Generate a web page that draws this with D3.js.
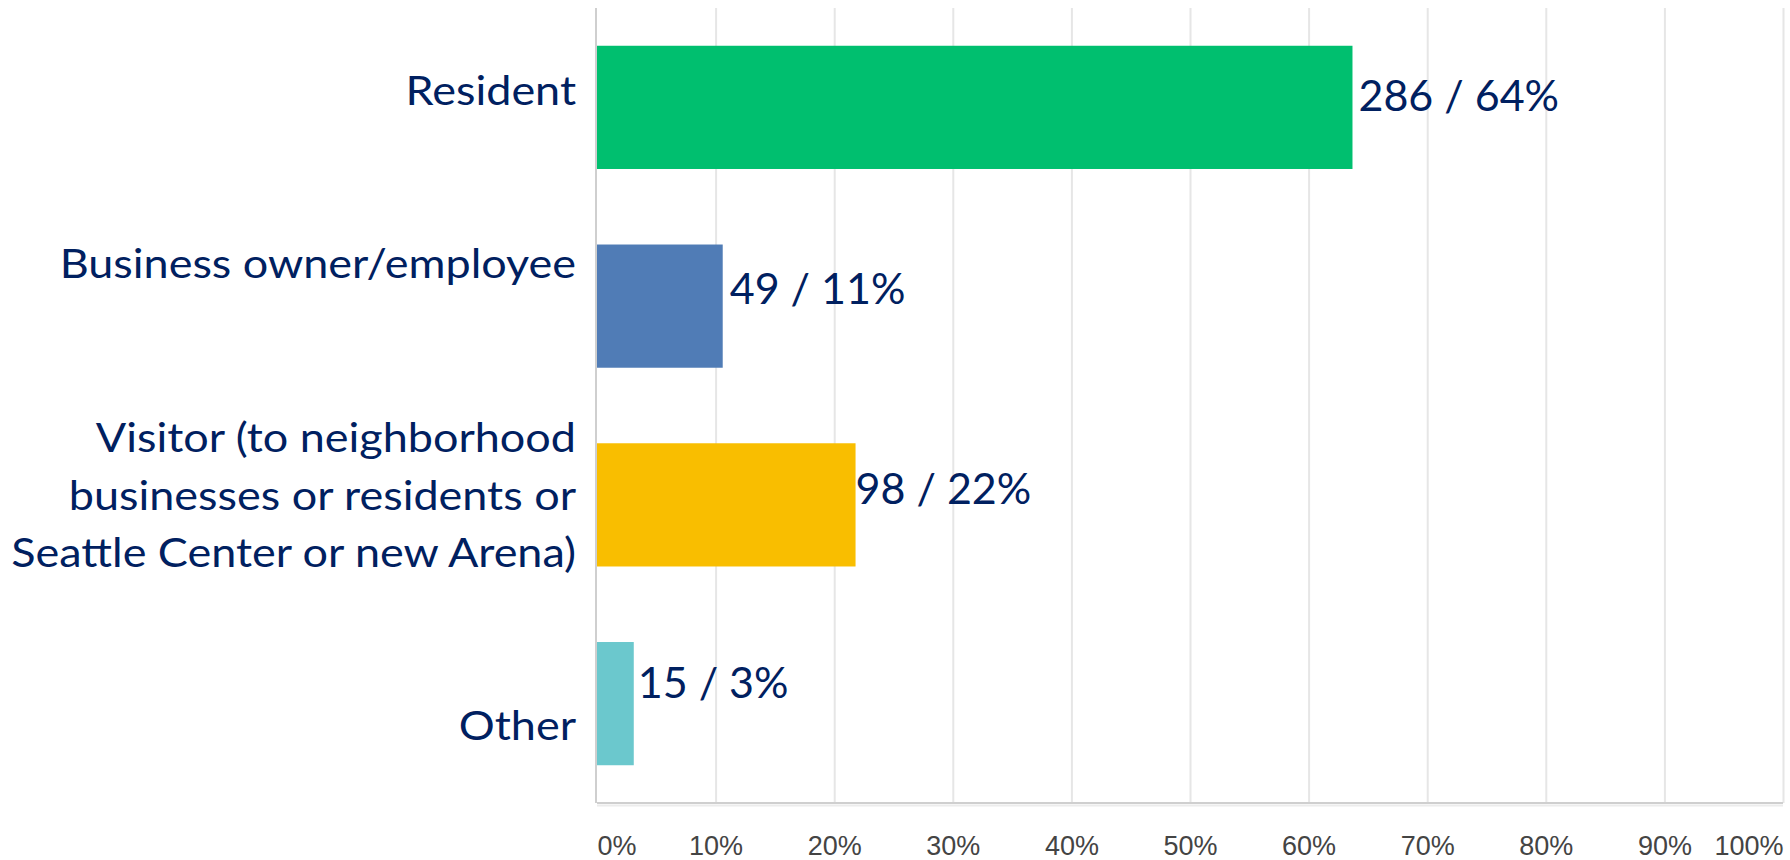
<!DOCTYPE html>
<html>
<head>
<meta charset="utf-8">
<script src="https://cdn.jsdelivr.net/npm/d3@7"></script>
<style>
  html, body { margin: 0; padding: 0; background: #fff; }
  svg { display: block; }
</style>
</head>
<body>
<div id="chart"></div>
<script>
// survey answers
var categories = ["Resident", "Business owner/employee", "Visitor", "Other"];
var categoryLines = [
  ["Resident"],
  ["Business owner/employee"],
  ["Visitor (to neighborhood", "businesses or residents or", "Seattle Center or new Arena)"],
  ["Other"]
];
var counts = [286, 49, 98, 15];
var percents = [63.7, 10.6, 21.8, 3.1];
var colors = ["#00bf6f", "#507cb6", "#f9be00", "#6bc8cd"];
var tickValues = [0, 10, 20, 30, 40, 50, 60, 70, 80, 90, 100];

// the labels do not sit exactly on the bar centres in the original
var labelShift = [-2, -28, 5, 36];
var valueShift = [4, -2, -1, -6];
var valueGap = [6, 7, 0, 4];

var width = 1790, height = 860;
var plotLeft = 597, plotRight = 1783, plotTop = 8, plotBottom = 803;

var x = d3.scaleLinear().domain([0, 100]).range([plotLeft, plotRight]);
var y = d3.scaleBand().domain(categories).range([plotTop, plotBottom])
  .paddingInner(0.38).paddingOuter(0.19);

var svg = d3.select('#chart')
  .append('svg')
  .attr('width', width)
  .attr('height', height);

// vertical grid
svg.append('g')
  .attr('class', 'grid')
  .attr('transform', 'translate(0,' + plotBottom + ')')
  .call(d3.axisBottom(x).tickValues(tickValues.slice(1)).tickSize(-(plotBottom - plotTop)).tickFormat(''))
  .call(function(g) { g.select('.domain').remove(); })
  .call(function(g) { g.selectAll('line').attr('stroke', '#e6e6e6').attr('stroke-width', 2); });

// bottom axis line with its soft shadow
svg.append('line')
  .attr('x1', plotLeft).attr('x2', plotRight)
  .attr('y1', plotBottom + 2.5).attr('y2', plotBottom + 2.5)
  .attr('stroke', '#ececec').attr('stroke-width', 2);
svg.append('line')
  .attr('x1', plotLeft).attr('x2', plotRight)
  .attr('y1', plotBottom).attr('y2', plotBottom)
  .attr('stroke', '#cfcfcf').attr('stroke-width', 2);

// left axis line
svg.append('line')
  .attr('x1', plotLeft - 1).attr('x2', plotLeft - 1)
  .attr('y1', plotTop).attr('y2', plotBottom)
  .attr('stroke', '#cfcfcf').attr('stroke-width', 2);

// tick labels
var ax = svg.append('g')
  .attr('transform', 'translate(0,' + (plotBottom + 40) + ')')
  .call(d3.axisBottom(x).tickValues(tickValues).tickSize(0).tickPadding(0)
    .tickFormat(function(d) { return d + '%'; }));
ax.select('.domain').remove();
ax.selectAll('text')
  .attr('dy', '0.45em')
  .attr('fill', '#444')
  .attr('font-family', '"Liberation Sans", Arial, sans-serif')
  .attr('font-size', 27)
  .attr('text-anchor', function(d, i) {
    return i === 0 ? 'start' : (i === tickValues.length - 1 ? 'end' : 'middle');
  });

// bars
svg.selectAll('rect.bar')
  .data(categories)
  .enter().append('rect')
  .attr('class', 'bar')
  .attr('x', x(0))
  .attr('y', function(d) { return y(d); })
  .attr('width', function(d, i) { return x(percents[i]) - x(0); })
  .attr('height', y.bandwidth())
  .attr('fill', function(d, i) { return colors[i]; });

// value labels
svg.selectAll('text.value')
  .data(categories)
  .enter().append('text')
  .attr('class', 'value')
  .attr('x', function(d, i) { return x(percents[i]) + valueGap[i]; })
  .attr('y', function(d, i) { return y(d) + y.bandwidth() / 2 + valueShift[i]; })
  .attr('fill', '#002060')
  .attr('font-family', 'Lato, "Open Sans", sans-serif')
  .attr('font-size', 43)
  .text(function(d, i) { return counts[i] + ' / ' + Math.round(percents[i]) + '%'; });

// category labels (the original face is a little wider than Lato)
var lineGap = 57.5;
var cat = svg.selectAll('text.cat')
  .data(categories)
  .enter().append('text')
  .attr('class', 'cat')
  .attr('text-anchor', 'end')
  .attr('fill', '#002060')
  .attr('font-family', 'Lato, "Open Sans", sans-serif')
  .attr('font-size', 40.5)
  .attr('transform', function(d, i) {
    var n = categoryLines[i].length;
    var base = y(d) + y.bandwidth() / 2 + labelShift[i] - (n - 1) / 2 * lineGap;
    return 'translate(' + (plotLeft - 21) + ',' + base + ') scale(1.11,1)';
  });

cat.selectAll('tspan')
  .data(function(d, i) { return categoryLines[i]; })
  .enter().append('tspan')
  .attr('x', 0)
  .attr('y', function(d, j) { return j * lineGap; })
  .text(function(d) { return d; });
</script>
</body>
</html>
